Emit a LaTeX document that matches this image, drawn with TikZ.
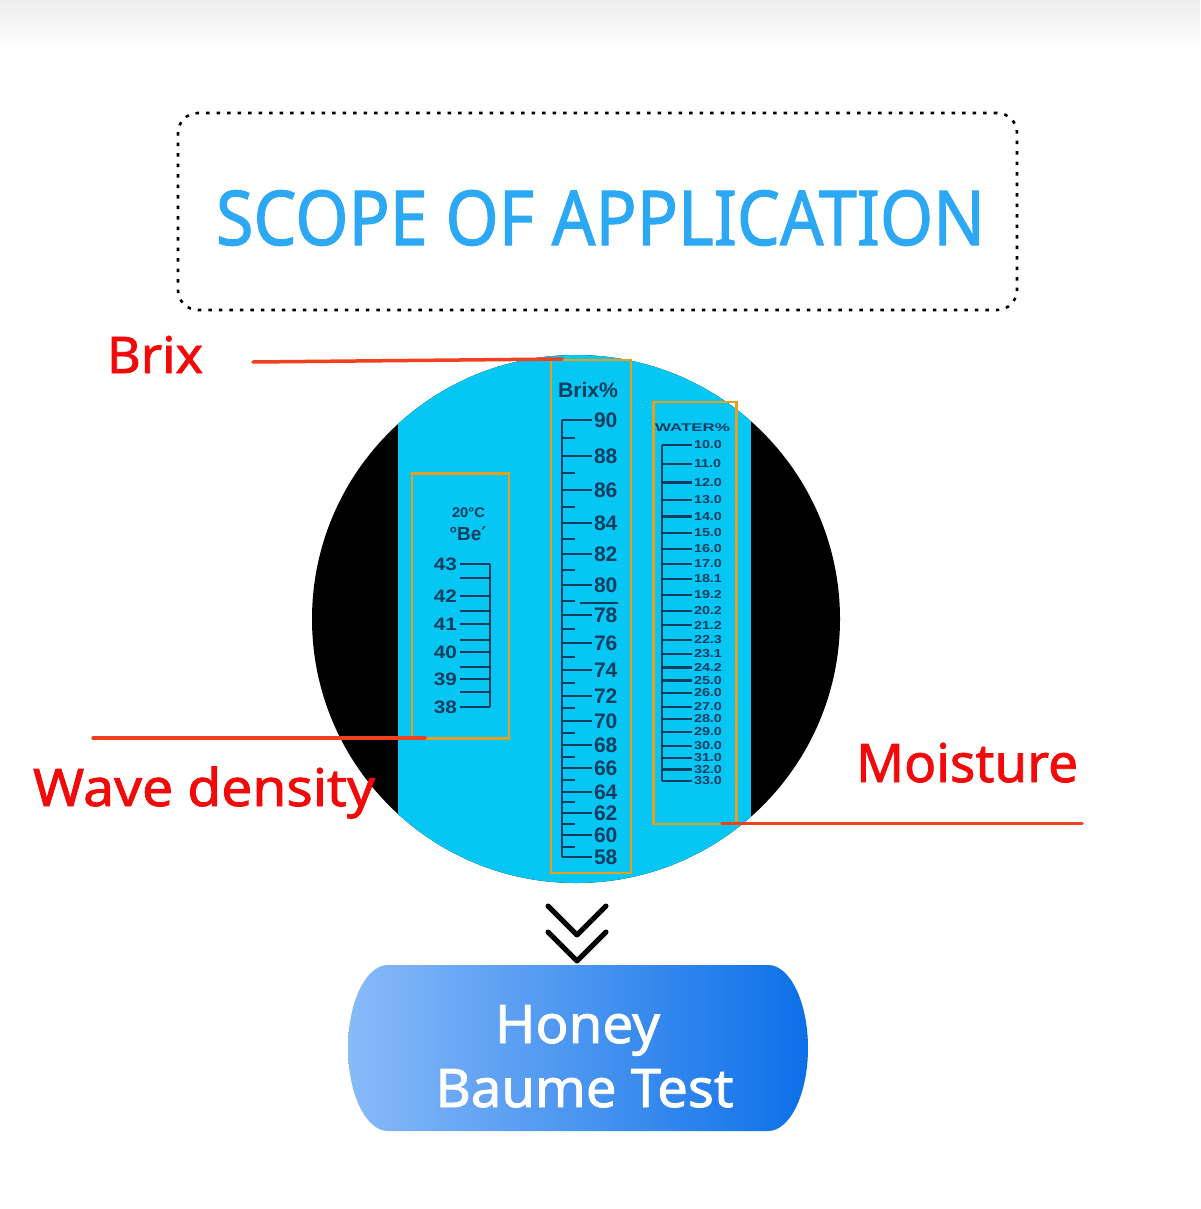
\documentclass[tikz,border=0pt]{standalone}
\usepackage{fontspec}
\usepackage{graphicx}
\setmainfont{Noto Sans}
\newfontfamily\medfont[FakeBold=1.5]{Noto Sans}
\newfontfamily\scfont{Liberation Sans}
\newfontfamily\djv{DejaVu Sans}
\newcommand\fitcap[3]{\resizebox{#1}{#2}{\smash{#3}\rule{0pt}{0.714em}}}
\newcommand\fitcapL[3]{\resizebox{#1}{#2}{\smash{#3}\rule{0pt}{0.716em}}}
\newcommand\medsize[1]{\medfont\fontsize{#1}{#1}\selectfont}
\definecolor{titleblue}{HTML}{2DA8F5}
\definecolor{labelred}{HTML}{F20A0A}
\definecolor{linered}{HTML}{F0401E}
\definecolor{bandblue}{HTML}{06C6F4}
\definecolor{ink}{HTML}{0F3D5E}
\definecolor{boxorange}{HTML}{E6A020}
\definecolor{btnleft}{HTML}{88BAF8}
\definecolor{btnright}{HTML}{0C70E8}
\tikzset{
  txt/.style={inner sep=0pt, outer sep=0pt},
  redlabel/.style={txt, anchor=base west, text=labelred},
  leader/.style={draw=linered, line width=3.5pt, line cap=round},
  scalebox/.style={draw=boxorange, line width=2.5pt},
  tick/.style={draw=ink, line width=2.7pt},
  thintick/.style={draw=ink, line width=2.2pt},
  chev/.style={line width=5pt, line cap=round, line join=round},
}
\begin{document}
\begin{tikzpicture}[x=1pt,y=-1pt]
\useasboundingbox (0,0) rectangle (1200,1209);
\fill[white] (0,0) rectangle (1200,1209);
\shade[top color=black!7, bottom color=white] (0,0) rectangle (1200,50);

% title box
\node[draw, line width=2.6pt, dash pattern=on 3.5pt off 7pt, rounded corners=20pt,
      minimum width=839pt, minimum height=197pt, inner sep=0pt] (scopebox) at (597.5,211.5) {};
\node[txt, anchor=base west, text=titleblue] (title) at (216,245)
  {\medsize{75}\fitcap{769pt}{54pt}{SCOPE OF APPLICATION}};

% circle
\fill[black] (576,619) circle[radius=264pt];
\begin{scope}
  \clip (576,619) circle[radius=264pt];
  \fill[bandblue] (398,340) rectangle (751,900);
\end{scope}

% Be scale
\node[txt, text=ink] (temp) at (468.5,512) {\scfont\bfseries\fitcapL{33pt}{10pt}{20°C}};
\node[txt, text=ink] (beunit) at (468,533.5) {\scfont\bfseries\fontsize{19}{19}\selectfont °Be{\djv\bfseries ′}};
\draw[tick] (490,564) -- (490,707);
\foreach \v/\y in {43/564,42/596,41/624,40/652,39/679,38/707}{
  \draw[tick] (460,\y) -- (490,\y);
  \node[txt, anchor=east, text=ink] (be\v) at (457,\y)
    {\scfont\bfseries\fontsize{18}{18}\selectfont\scalebox{1.15}[1]{\v}};
}
\foreach \y in {578,611,640,667,692}{ \draw[tick] (460,\y) -- (490,\y); }

% Brix scale
\node[txt, text=ink, anchor=base west] (brixunit) at (558,397) {\scfont\bfseries\fitcapL{60pt}{15pt}{Brix\%}};
\draw[tick] (562,420) -- (562,857);
\foreach \v/\y in {90/420,88/456,86/490,84/523,82/554,80/585,78/615,76/643,74/670,72/696,70/721,68/745,66/768,64/792,62/813,60/835,58/857}{
  \draw[tick] (562,\y) -- (592,\y);
  \node[txt, anchor=west, text=ink] (brix\v) at (594,\y)
    {\scfont\bfseries\fontsize{21}{21}\selectfont \v};
}
\foreach \y in {438,473,507,539,570,601,629,657,683,708,733,757,780,802,824,847}{
  \draw[tick] (562,\y) -- (575,\y);
}
\draw[thintick] (580,603) -- (618,603);

% Water scale
\node[txt, text=ink, anchor=base west] (waterunit) at (655,431) {\scfont\bfseries\fitcapL{75pt}{8pt}{WATER\%}};
\draw[tick] (662,445) -- (662,781);
\foreach \v/\y in {10.0/445,11.0/464,12.0/482.5,13.0/500,14.0/516.5,15.0/533,16.0/549,17.0/564,18.1/579,19.2/595,20.2/611,21.2/625,22.3/640,23.1/654,24.2/667.5,25.0/680.5,26.0/693,27.0/707,28.0/719,29.0/732,30.0/746,31.0/758,32.0/769.5,33.0/781}{
  \draw[tick] (662,\y) -- (692,\y);
  \node[txt, anchor=west, text=ink] (water\v) at (694,\y)
    {\scfont\bfseries\fontsize{11.5}{11.5}\selectfont\scalebox{1.25}[1]{\v}};
}

% orange boxes
\node[scalebox, inner sep=0pt, minimum width=97pt, minimum height=265pt] (bebox) at (460.5,606) {};
\node[scalebox, inner sep=0pt, minimum width=80pt, minimum height=513pt] (brixbox) at (591,616.5) {};
\node[scalebox, inner sep=0pt, minimum width=83pt, minimum height=422pt] (waterbox) at (695,613) {};

% labels and leaders
\node[redlabel] (brixlabel) at (107,373) {\medsize{51}\fitcap{96pt}{36pt}{Brix}};
\node[redlabel] (wavelabel) at (33,806) {\medsize{52}\fitcap{342pt}{37pt}{Wave density}};
\node[redlabel] (moistlabel) at (856,782) {\medsize{53}\fitcap{222pt}{38pt}{Moisture}};

\coordinate (brixA) at (253,362);
\coordinate (brixB) at (562,359);
\coordinate (waveA) at (93,738);
\coordinate (waveB) at (425,738);
\coordinate (moistA) at (722,823.5);
\coordinate (moistB) at (1082,823.5);
\draw[leader] (brixA) -- (brixB);
\draw[leader] (waveA) -- (waveB);
\draw[leader] (moistA) -- (moistB);

% chevrons
\draw[chev] (548,906) -- (577,935) -- (606,906);
\draw[chev] (548,932) -- (577,961) -- (606,932);

% button
\shade[left color=btnleft, right color=btnright]
  (388,965) -- (768,965) .. controls (790,965) and (808,1002) .. (808,1048)
  .. controls (808,1094) and (790,1131) .. (768,1131) -- (388,1131)
  .. controls (366,1131) and (348,1094) .. (348,1048)
  .. controls (348,1002) and (366,965) .. (388,965) -- cycle;
\node[txt, anchor=base, text=white] (honey) at (577.5,1043) {\medsize{53}\fitcap{165pt}{38pt}{Honey}};
\node[txt, anchor=base, text=white] (baume) at (584.5,1107) {\medsize{53}\fitcap{298pt}{38pt}{Baume Test}};
\end{tikzpicture}
\end{document}
